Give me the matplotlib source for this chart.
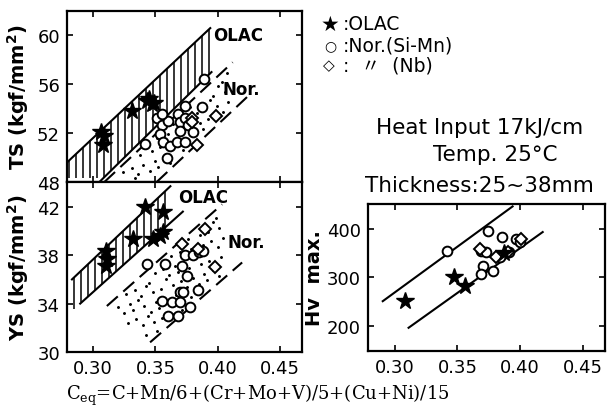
import numpy as np
import matplotlib.pyplot as plt

# ---- data ----
# TS panel (kgf/mm2)
ts_olac_x = [0.306, 0.309, 0.308, 0.331, 0.343, 0.347, 0.345, 0.349]
ts_olac_y = [52.1, 51.8, 51.0, 53.8, 54.6, 54.4, 54.8, 54.5]
ts_nor_x = [0.342, 0.351, 0.355, 0.354, 0.356, 0.359, 0.362, 0.367, 0.368, 0.370,
            0.370, 0.374, 0.374, 0.374, 0.376, 0.380, 0.387, 0.389, 0.360, 0.355]
ts_nor_y = [51.1, 53.2, 52.7, 51.9, 51.3, 50.0, 50.95, 51.3, 53.6, 52.9,
            52.2, 54.2, 53.2, 51.3, 52.7, 52.1, 54.1, 56.4, 53.0, 53.6]
ts_nb_x = [0.379, 0.383, 0.399, 0.379]
ts_nb_y = [53.2, 51.0, 53.4, 52.9]

# YS panel (kgf/mm2)
ys_olac_x = [0.310, 0.311, 0.310, 0.332, 0.342, 0.356, 0.348, 0.354, 0.356]
ys_olac_y = [38.35, 37.7, 37.1, 39.3, 42.0, 41.6, 39.3, 39.6, 39.9]
ys_nor_x = [0.343, 0.358, 0.371, 0.374, 0.375, 0.370, 0.372, 0.384, 0.355, 0.363,
            0.370, 0.360, 0.368, 0.378, 0.380, 0.385, 0.388]
ys_nor_y = [37.3, 37.3, 37.1, 38.0, 36.3, 35.0, 35.0, 35.1, 34.2, 34.1,
            34.1, 33.0, 33.0, 33.7, 38.0, 38.3, 38.35]
ys_nb_x = [0.371, 0.390, 0.398, 0.384]
ys_nb_y = [38.9, 40.2, 37.0, 38.5]

# Hv max panel
hv_olac_x = [0.308, 0.347, 0.356, 0.387]
hv_olac_y = [251, 301, 282, 350]
hv_nor_x = [0.342, 0.374, 0.369, 0.373, 0.370, 0.369, 0.378, 0.3855, 0.397, 0.3995,
            0.391, 0.384]
hv_nor_y = [355, 396, 355, 353, 324, 307, 313, 383, 380, 373, 352, 342]
hv_nb_x = [0.368, 0.390, 0.401, 0.381]
hv_nb_y = [359, 353, 380, 342]

# scatter band boundaries (end points)
ts_olac_up = ([0.279, 0.394], [49.6, 60.6])
ts_olac_lo = ([0.305, 0.395], [48.0, 57.0])
ts_nor_up = ([0.309, 0.412], [48.0, 57.8])
ts_nor_lo = ([0.351, 0.424], [48.0, 55.0])
ys_olac_up = ([0.283, 0.362], [36.0, 43.7])
ys_olac_lo = ([0.2896, 0.372], [34.0, 41.6])
ys_nor_up = ([0.311, 0.4035], [33.8, 42.2])
ys_nor_lo = ([0.3457, 0.4196], [30.8, 37.4])
hv_up = ([0.2904, 0.394], [251, 447])
hv_lo = ([0.311, 0.418], [196, 394])

xticks = [0.30, 0.35, 0.40, 0.45]
xticklabels = ['0.30', '0.35', '0.40', '0.45']

plt.rcParams['font.family'] = ['DejaVu Sans', 'Noto Sans CJK JP']

fig = plt.figure(figsize=(6.09, 4.10), dpi=100)
ax_ts = fig.add_axes([0.110, 0.5537, 0.386, 0.417])
ax_ys = fig.add_axes([0.110, 0.139, 0.386, 0.4147])
ax_hv = fig.add_axes([0.604, 0.1415, 0.389, 0.3585])


def line_y(ln, x):
    s = (ln[1][1] - ln[1][0]) / (ln[0][1] - ln[0][0])
    return ln[1][0] + s * (np.asarray(x) - ln[0][0])


def hatched(ax, up, lo, step=0.0056):
    # vertical hatching between two solid lines
    ybot = ax.get_ylim()[0]
    xs = np.arange(up[0][0] + 0.002, up[0][1], step)
    yu = line_y(up, xs)
    yl = np.maximum(line_y(lo, xs), ybot + 0.3)
    ax.vlines(xs, yl, yu, color='black', lw=1.1)
    ax.plot(up[0], up[1], color='black', lw=1.5)
    ax.plot(lo[0], lo[1], color='black', lw=1.5)


def stippled(ax, up, lo, dx=0.0075, dy=0.8):
    # dotted area between two dashed lines, closed by the line joining their starts
    ybot, ytop = ax.get_ylim()
    start = ([up[0][0], lo[0][0]], [up[1][0], lo[1][0]])
    xg = np.arange(up[0][0], up[0][1], dx)
    px, py = [], []
    for i, x in enumerate(xg):
        ys = np.arange(ybot + 0.2 + ((i * 0.38) % 1) * dy, ytop, dy)
        xs = x + ((np.arange(len(ys)) * 0.61 + i * 0.27) % 1 - 0.5) * dx * 0.9
        m = (ys < line_y(up, xs) - 0.3) & (ys > line_y(lo, xs) + 0.3)
        if start[1][0] != start[1][1]:
            m &= ys > line_y(start, xs)
        px += list(xs[m])
        py += list(ys[m])
    ax.plot(px, py, '.', color='black', ms=2.2)
    ax.plot(up[0], up[1], color='black', lw=1.5, ls=(0, (7, 3.5)))
    ax.plot(lo[0], lo[1], color='black', lw=1.5, ls=(0, (7, 3.5)))


def style(ax):
    ax.set_xticks(xticks)
    ax.tick_params(direction='in', length=4, width=1.2, top=True, right=True,
                   labelsize=13, pad=5)
    for s in ax.spines.values():
        s.set_linewidth(1.6)


def points(ax, nx, ny, bx, by, ox, oy):
    ax.plot(nx, ny, 'o', mfc='white', mec='black', ms=7, mew=1.4)
    ax.plot(bx, by, 'D', mfc='white', mec='black', ms=6.5, mew=1.4)
    ax.plot(ox, oy, '*', color='black', ms=13)


# TS
style(ax_ts)
ax_ts.set_xlim(0.279, 0.4677)
ax_ts.set_ylim(48, 62.0)
ax_ts.set_yticks([48, 52, 56, 60])
ax_ts.set_xticklabels([])
stippled(ax_ts, ts_nor_up, ts_nor_lo)
hatched(ax_ts, ts_olac_up, ts_olac_lo)
points(ax_ts, ts_nor_x, ts_nor_y, ts_nb_x, ts_nb_y, ts_olac_x, ts_olac_y)
ax_ts.text(0.396, 60.0, 'OLAC', fontsize=12, fontweight='bold', va='center')
ax_ts.text(0.404, 55.6, 'Nor.', fontsize=12, fontweight='bold', va='center')
ax_ts.set_ylabel('TS (kgf/mm$^\\mathregular{2}$)', fontsize=14, fontweight='bold', labelpad=4)

# YS
style(ax_ys)
ax_ys.set_xlim(0.279, 0.4677)
ax_ys.set_ylim(30, 44.05)
ax_ys.set_yticks([30, 34, 38, 42])
ax_ys.set_xticklabels(xticklabels)
stippled(ax_ys, ys_nor_up, ys_nor_lo)
hatched(ax_ys, ys_olac_up, ys_olac_lo)
points(ax_ys, ys_nor_x, ys_nor_y, ys_nb_x, ys_nb_y, ys_olac_x, ys_olac_y)
ax_ys.text(0.368, 42.8, 'OLAC', fontsize=12, fontweight='bold', va='center')
ax_ys.text(0.4075, 39.1, 'Nor.', fontsize=12, fontweight='bold', va='center')
ax_ys.set_ylabel('YS (kgf/mm$^\\mathregular{2}$)', fontsize=14, fontweight='bold', labelpad=4)

# Hv max
style(ax_hv)
ax_hv.set_xlim(0.2785, 0.4675)
ax_hv.set_xticklabels(xticklabels)
ax_hv.set_ylim(148, 452)
ax_hv.set_yticks([200, 300, 400])
ax_hv.plot(hv_up[0], hv_up[1], color='black', lw=1.5)
ax_hv.plot(hv_lo[0], hv_lo[1], color='black', lw=1.5)
points(ax_hv, hv_nor_x, hv_nor_y, hv_nb_x, hv_nb_y, hv_olac_x, hv_olac_y)
ax_hv.set_ylabel('Hv  max.', fontsize=14, fontweight='bold', labelpad=2)

# legend and conditions
fig.text(321 / 609, 1 - 25 / 410, '\u2605', fontsize=15, va='center')
fig.text(343 / 609, 1 - 25 / 410, ':OLAC', fontsize=13.5, va='center')
fig.text(324 / 609, 1 - 46 / 410, '\u25cb', fontsize=10, va='center')
fig.text(343 / 609, 1 - 46 / 410, ':Nor.(Si-Mn)', fontsize=13.5, va='center')
fig.text(323 / 609, 1 - 66 / 410, '\u25c7', fontsize=11, va='center')
fig.text(343 / 609, 1 - 66 / 410, ':  \u3003  (Nb)', fontsize=13.5, va='center')

fig.text(480 / 609, 1 - 128 / 410, 'Heat Input 17kJ/cm', fontsize=15.5, ha='center', va='center')
fig.text(495 / 609, 1 - 155 / 410, 'Temp. 25\u00b0C', fontsize=15.5, ha='center', va='center')
fig.text(479 / 609, 1 - 186 / 410, 'Thickness:25~38mm', fontsize=15.5, ha='center', va='center')

fig.text(258 / 609, 1 - 395 / 410,
         '$\\mathregular{C_{eq}}$=C+Mn/6+(Cr+Mo+V)/5+(Cu+Ni)/15',
         fontsize=13, family='DejaVu Serif', ha='center', va='center')

fig.savefig('out.png', dpi=100)
